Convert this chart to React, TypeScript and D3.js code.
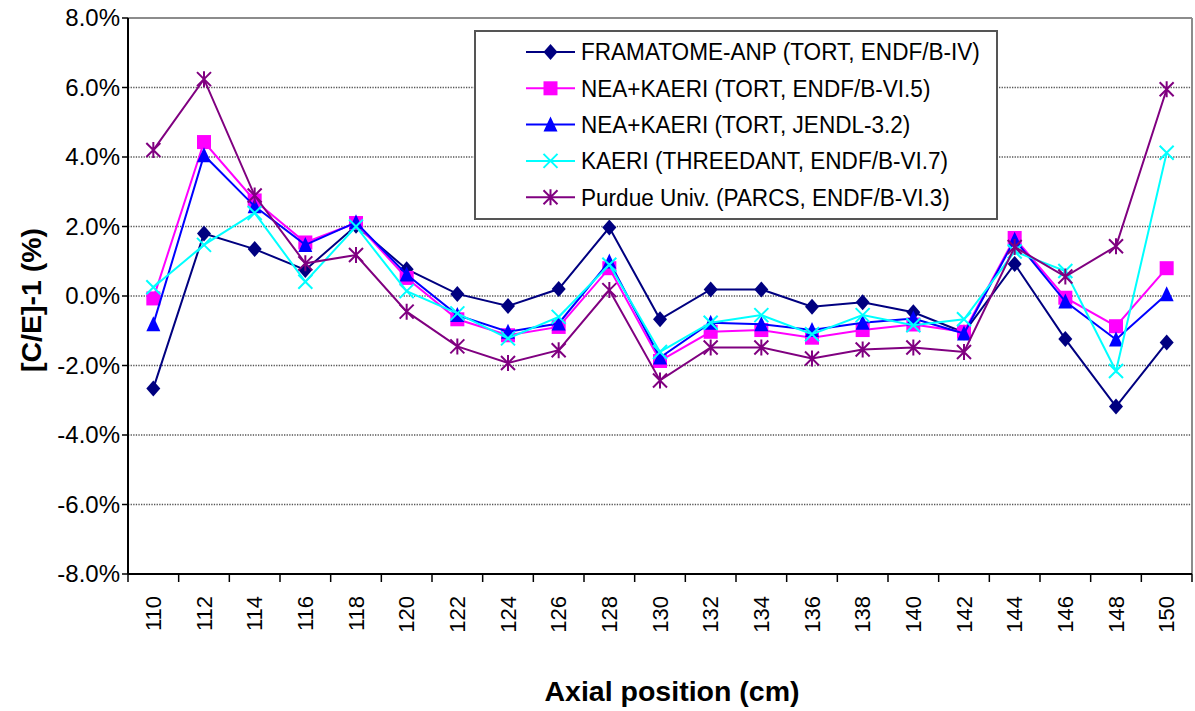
import React from "react";
import * as d3 from "d3";

// axial positions (cm)
const positions = [110, 112, 114, 116, 118, 120, 122, 124, 126, 128, 130, 132, 134, 136, 138, 140, 142, 144, 146, 148, 150];

// [C/E]-1 in percent
const framatome = [-2.66, 1.8, 1.35, 0.75, 2.02, 0.77, 0.06, -0.29, 0.2, 1.97, -0.67, 0.19, 0.19, -0.31, -0.18, -0.47, -1.05, 0.92, -1.24, -3.18, -1.34];
const neaEndf = [-0.07, 4.43, 2.75, 1.54, 2.1, 0.52, -0.67, -1.13, -0.89, 0.8, -1.87, -1.03, -0.98, -1.2, -0.98, -0.82, -1.03, 1.67, -0.05, -0.87, 0.8];
const neaJendl = [-0.81, 4.05, 2.58, 1.47, 2.12, 0.62, -0.55, -1.03, -0.79, 0.99, -1.77, -0.77, -0.81, -0.98, -0.77, -0.65, -1.08, 1.62, -0.16, -1.25, 0.05];
const kaeri = [0.25, 1.47, 2.39, 0.41, 2.0, 0.14, -0.5, -1.22, -0.6, 0.9, -1.61, -0.77, -0.55, -1.1, -0.55, -0.84, -0.67, 1.28, 0.72, -2.16, 4.12];
const purdue = [4.2, 6.24, 2.89, 0.94, 1.18, -0.45, -1.45, -1.93, -1.56, 0.17, -2.43, -1.48, -1.48, -1.8, -1.54, -1.48, -1.61, 1.41, 0.56, 1.43, 5.95];

const seriesNames = [
  "FRAMATOME-ANP (TORT, ENDF/B-IV)",
  "NEA+KAERI (TORT, ENDF/B-VI.5)",
  "NEA+KAERI (TORT, JENDL-3.2)",
  "KAERI (THREEDANT, ENDF/B-VI.7)",
  "Purdue Univ. (PARCS, ENDF/B-VI.3)",
];
const seriesValues = [framatome, neaEndf, neaJendl, kaeri, purdue];
const seriesColors = ["#000080", "#FF00FF", "#0000FF", "#00FFFF", "#800080"];
const seriesMarkers = ["diamond", "square", "triangle", "cross", "star"];

const yTicks = [-8, -6, -4, -2, 0, 2, 4, 6, 8];

const FONT = "'Liberation Sans', Arial, Helvetica, sans-serif";

function Marker({ kind, x, y, color }: { kind: string; x: number; y: number; color: string }) {
  const s = 7;
  if (kind === "diamond")
    return <path d={`M${x},${y - s - 1}L${x + s},${y}L${x},${y + s + 1}L${x - s},${y}Z`} fill={color} />;
  if (kind === "square")
    return <rect x={x - s} y={y - s} width={2 * s} height={2 * s} fill={color} />;
  if (kind === "triangle")
    return <path d={`M${x},${y - s - 1}L${x + s},${y + s}L${x - s},${y + s}Z`} fill={color} />;
  if (kind === "cross")
    return (
      <path
        d={`M${x - s},${y - s}L${x + s},${y + s}M${x - s},${y + s}L${x + s},${y - s}`}
        stroke={color}
        strokeWidth={2}
      />
    );
  return (
    <path
      d={`M${x - s},${y - s}L${x + s},${y + s}M${x - s},${y + s}L${x + s},${y - s}M${x},${y - s - 1}L${x},${y + s + 1}`}
      stroke={color}
      strokeWidth={2}
    />
  );
}

export default function App() {
  const width = 1195;
  const height = 711;
  const margin = { top: 18, right: 3, bottom: 137, left: 128 };
  const innerWidth = width - margin.left - margin.right;
  const innerHeight = height - margin.top - margin.bottom;

  const xScale = d3.scaleBand<number>().domain(positions).range([0, innerWidth]);
  const yScale = d3.scaleLinear().domain([-8, 8]).range([innerHeight, 0]);
  const cx = (p: number) => (xScale(p) as number) + xScale.bandwidth() / 2;

  const line = d3
    .line<number>()
    .x((_, i) => cx(positions[i]))
    .y((d) => yScale(d));

  const legend = { x: 475, y: 31, w: 522, h: 188, rowTop: 21, rowStep: 36.3 };

  return (
    <svg width={width} height={height} style={{ position: "absolute", left: 0, top: 0 }} fontFamily={FONT}>
      <rect width={width} height={height} fill="#fff" />
      <g transform={`translate(${margin.left},${margin.top})`}>
        {/* gridlines */}
        {yTicks
          .filter((t) => t !== 8 && t !== -8)
          .map((t) => (
            <line
              key={t}
              x1={0}
              x2={innerWidth}
              y1={yScale(t)}
              y2={yScale(t)}
              stroke="#555"
              strokeWidth={1.3}
              strokeDasharray="1.3,1.3"
            />
          ))}
        {/* plot area border */}
        <line x1={0} x2={innerWidth} y1={0} y2={0} stroke="#8c8c8c" strokeWidth={2} />
        <line x1={innerWidth} x2={innerWidth} y1={0} y2={innerHeight} stroke="#8c8c8c" strokeWidth={2} />

        {/* series */}
        {seriesValues.map((vals, si) => (
          <g key={si}>
            <path d={line(vals) as string} fill="none" stroke={seriesColors[si]} strokeWidth={2} />
            {vals.map((v, i) => (
              <Marker key={i} kind={seriesMarkers[si]} x={cx(positions[i])} y={yScale(v)} color={seriesColors[si]} />
            ))}
          </g>
        ))}

        {/* y axis */}
        <line x1={0} x2={0} y1={0} y2={innerHeight} stroke="#000" strokeWidth={2} />
        {yTicks.map((t) => (
          <g key={t} transform={`translate(0,${yScale(t)})`}>
            <line x1={-6} x2={0} stroke="#000" strokeWidth={1.5} />
            <text x={-8} dy="0.35em" textAnchor="end" fontSize={24} fill="#000">
              {t.toFixed(1) + "%"}
            </text>
          </g>
        ))}

        {/* x axis */}
        <line x1={0} x2={innerWidth} y1={innerHeight} y2={innerHeight} stroke="#000" strokeWidth={2} />
        {positions.map((p) => (
          <line
            key={"t" + p}
            x1={xScale(p) as number}
            x2={xScale(p) as number}
            y1={innerHeight}
            y2={innerHeight + 8}
            stroke="#000"
            strokeWidth={1.5}
          />
        ))}
        <line x1={innerWidth} x2={innerWidth} y1={innerHeight} y2={innerHeight + 8} stroke="#000" strokeWidth={1.5} />
        {positions.map((p) => (
          <text
            key={"l" + p}
            transform={`translate(${cx(p)},${innerHeight + 22}) rotate(-90)`}
            textAnchor="end"
            dy="0.35em"
            fontSize={22}
            fill="#000"
          >
            {p}
          </text>
        ))}
      </g>

      {/* axis titles */}
      <text x={672} y={701} textAnchor="middle" fontSize={28.5} fontWeight="bold" fill="#000">
        Axial position (cm)
      </text>
      <text
        transform={`translate(41,${margin.top + innerHeight / 2 + 4}) rotate(-90)`}
        textAnchor="middle"
        fontSize={28.5}
        fontWeight="bold"
        fill="#000"
      >
        [C/E]-1 (%)
      </text>

      {/* legend */}
      <g transform={`translate(${legend.x},${legend.y})`}>
        <rect width={legend.w} height={legend.h} fill="#fff" stroke="#555" strokeWidth={2} />
        {seriesNames.map((name, i) => {
          const ry = legend.rowTop + i * legend.rowStep;
          return (
            <g key={name} transform={`translate(0,${ry})`}>
              <line x1={51} x2={100} y1={0} y2={0} stroke={seriesColors[i]} strokeWidth={2} />
              <Marker kind={seriesMarkers[i]} x={75.5} y={0} color={seriesColors[i]} />
              <text transform="translate(106,0) scale(0.94,1)" dy="0.35em" fontSize={24} fill="#000">
                {name}
              </text>
            </g>
          );
        })}
      </g>
    </svg>
  );
}
